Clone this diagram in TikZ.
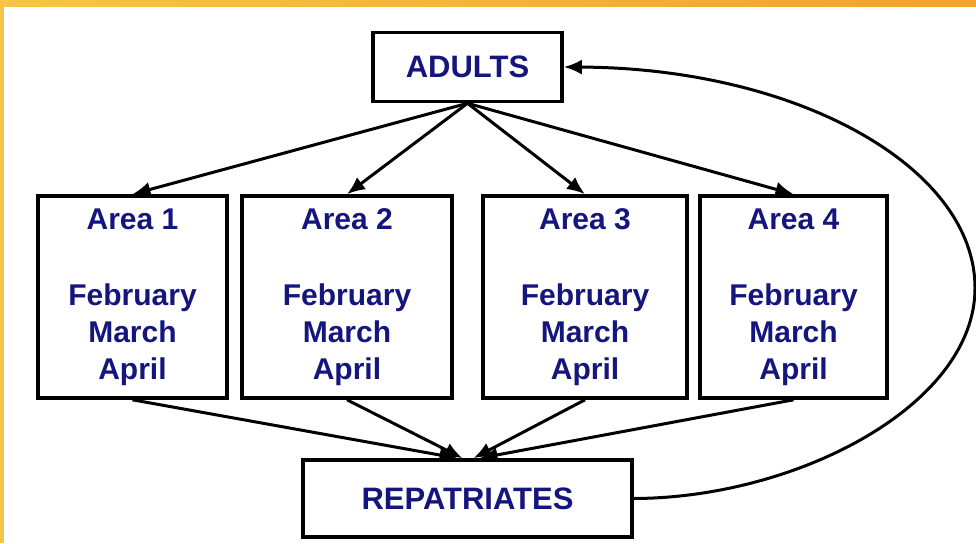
\documentclass[tikz,border=0pt]{standalone}
\usepackage{fontspec}
\setmainfont{Liberation Sans}
\usetikzlibrary{arrows.meta}
\definecolor{navy}{RGB}{20,22,125}
\definecolor{bandA}{RGB}{246,196,70}
\definecolor{bandB}{RGB}{245,160,50}
\begin{document}
\begin{tikzpicture}[x=1pt,y=-1pt,
  box/.style={draw=black, line width=3.6pt, fill=white, inner sep=0pt,
    font=\bfseries\fontsize{30}{37}\selectfont, text=navy, align=center},
  bigbox/.style={box, font=\bfseries\fontsize{31}{37}\selectfont},
  conn/.style={line width=3pt, -{Latex[length=18pt,width=15pt]}}]
\useasboundingbox (0,0) rectangle (976,543);
\fill[white] (0,0) rectangle (976,543);
\shade[left color=bandA, right color=bandB] (0,0) rectangle (976,7);
\fill[bandA] (0,0) rectangle (4,543);

\node[bigbox, minimum width=189pt, minimum height=69pt] (adults) at (467.5,67) {ADULTS};
\node[box, minimum width=189pt, minimum height=202pt] (a1) at (132.5,297) {Area 1\\[39pt]February\\March\\April};
\node[box, minimum width=210pt, minimum height=202pt] (a2) at (347,297) {Area 2\\[39pt]February\\March\\April};
\node[box, minimum width=204pt, minimum height=202pt] (a3) at (585,297) {Area 3\\[39pt]February\\March\\April};
\node[box, minimum width=187pt, minimum height=202pt] (a4) at (793.5,297) {Area 4\\[39pt]February\\March\\April};
\node[bigbox, minimum width=329pt, minimum height=77pt] (rep) at (467.5,498.5) {REPATRIATES};

\draw[conn] (adults.south) -- (a1.north);
\draw[conn] (adults.south) -- (a2.north);
\draw[conn] (adults.south) -- (a3.north);
\draw[conn] (adults.south) -- (a4.north);

\draw[conn] (a1.south) -- ([xshift=-10pt]rep.north);
\draw[conn] (a2.south) -- ([xshift=-5pt]rep.north);
\draw[conn] (a3.south) -- ([xshift=6pt]rep.north);
\draw[conn] (a4.south) -- ([xshift=12pt]rep.north);

\draw[conn] (rep.east) .. controls (797,498) and (975,405) .. (975,288)
  .. controls (975,167) and (797,68) .. (adults.east);
\end{tikzpicture}
\end{document}
